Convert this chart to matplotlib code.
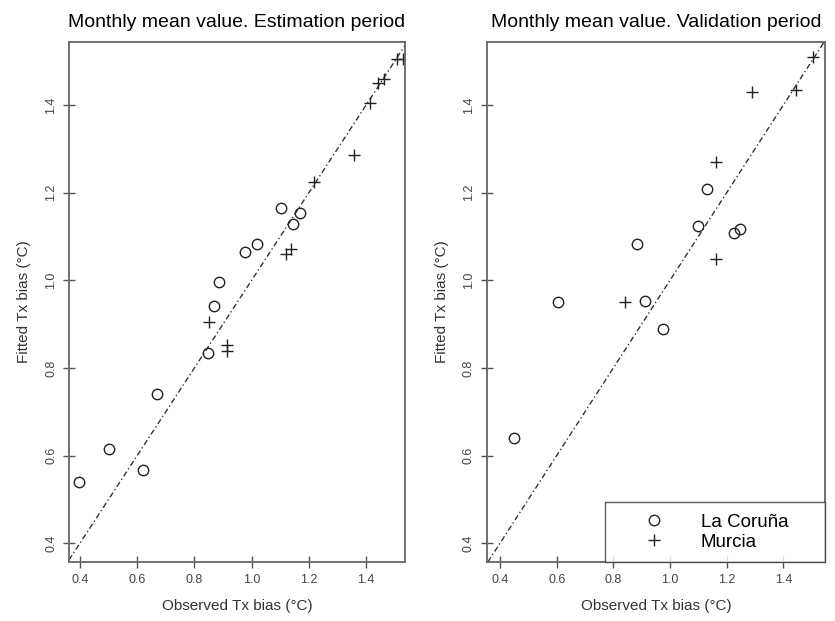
import matplotlib
matplotlib.use("Agg")
import matplotlib.pyplot as plt

plt.rcParams['font.family'] = ['Liberation Sans', 'DejaVu Sans']

# Estimation period (observed vs fitted Tx bias)
est_coruna_obs = [0.397, 0.502, 0.621, 0.668, 0.849, 0.870, 0.887, 0.977, 1.018, 1.102, 1.146, 1.169]
est_coruna_fit = [0.540, 0.615, 0.568, 0.740, 0.835, 0.941, 0.997, 1.064, 1.084, 1.164, 1.128, 1.154]
est_murcia_obs = [0.852, 0.913, 0.913, 1.119, 1.138, 1.219, 1.359, 1.414, 1.443, 1.461, 1.508, 1.530]
est_murcia_fit = [0.905, 0.852, 0.839, 1.060, 1.071, 1.225, 1.286, 1.404, 1.450, 1.459, 1.505, 1.505]

# Validation period
val_coruna_obs = [0.449, 0.604, 0.885, 0.912, 0.976, 1.098, 1.130, 1.227, 1.247]
val_coruna_fit = [0.640, 0.950, 1.082, 0.953, 0.888, 1.124, 1.208, 1.109, 1.118]
val_murcia_obs = [0.841, 1.161, 1.162, 1.291, 1.445, 1.506]
val_murcia_fit = [0.950, 1.048, 1.269, 1.429, 1.434, 1.509]

ticks = [0.4, 0.6, 0.8, 1.0, 1.2, 1.4]
tick_labels = ['0.4', '0.6', '0.8', '1.0', '1.2', '1.4']
titles = ['Monthly mean value. Estimation period', 'Monthly mean value. Validation period']

fig = plt.figure(figsize=(8.35, 6.21), dpi=100)
ax1 = fig.add_axes([0.0826, 0.095, 0.4024, 0.8374])
ax2 = fig.add_axes([0.5829, 0.095, 0.4051, 0.8374])

panels = [
    (ax1, est_coruna_obs, est_coruna_fit, est_murcia_obs, est_murcia_fit, (0.3615, 1.536)),
    (ax2, val_coruna_obs, val_coruna_fit, val_murcia_obs, val_murcia_fit, (0.353, 1.547)),
]

ink = '#222222'
for i, (ax, co, cf, mo, mf, xlim) in enumerate(panels):
    ax.axline((0, 0), slope=1, color='#333333', lw=1.0, dashes=(4, 2, 1, 2))
    ax.plot(co, cf, 'o', ms=7.5, mfc='none', mec=ink, mew=1.0, label='La Coruña')
    ax.plot(mo, mf, '+', ms=9, mec=ink, mew=1.0, label='Murcia')
    ax.set_xlim(*xlim)
    ax.set_ylim(0.357, 1.544)
    ax.set_xticks(ticks)
    ax.set_xticklabels(tick_labels)
    ax.set_yticks(ticks)
    ax.set_yticklabels(tick_labels, rotation=90, va='center')
    ax.tick_params(direction='inout', length=9, width=1.0, color='#555555',
                   labelsize=9, labelcolor='#444444', pad=4)
    for s in ax.spines.values():
        s.set_color('#666666')
        s.set_linewidth(1.3)
    ax.set_title(titles[i], fontsize=14, pad=11)
    ax.set_xlabel('Observed Tx bias (°C)', fontsize=11, color='#333333')
    ax.set_ylabel('Fitted Tx bias (°C)', fontsize=11, color='#333333')
    ax.xaxis.set_label_coords(0.5, -0.072)
    ax.yaxis.set_label_coords(-0.112, 0.5)

leg = ax2.legend(loc='lower left', bbox_to_anchor=(0.35, 0.0, 0.65, 0.12), mode='expand',
                 borderaxespad=0, fancybox=False, edgecolor='#333333', fontsize=13.5,
                 handlelength=4, handletextpad=0.5, borderpad=0.6, labelspacing=0.15)
leg.get_frame().set_linewidth(1.0)

fig.savefig('out.png', dpi=100)
